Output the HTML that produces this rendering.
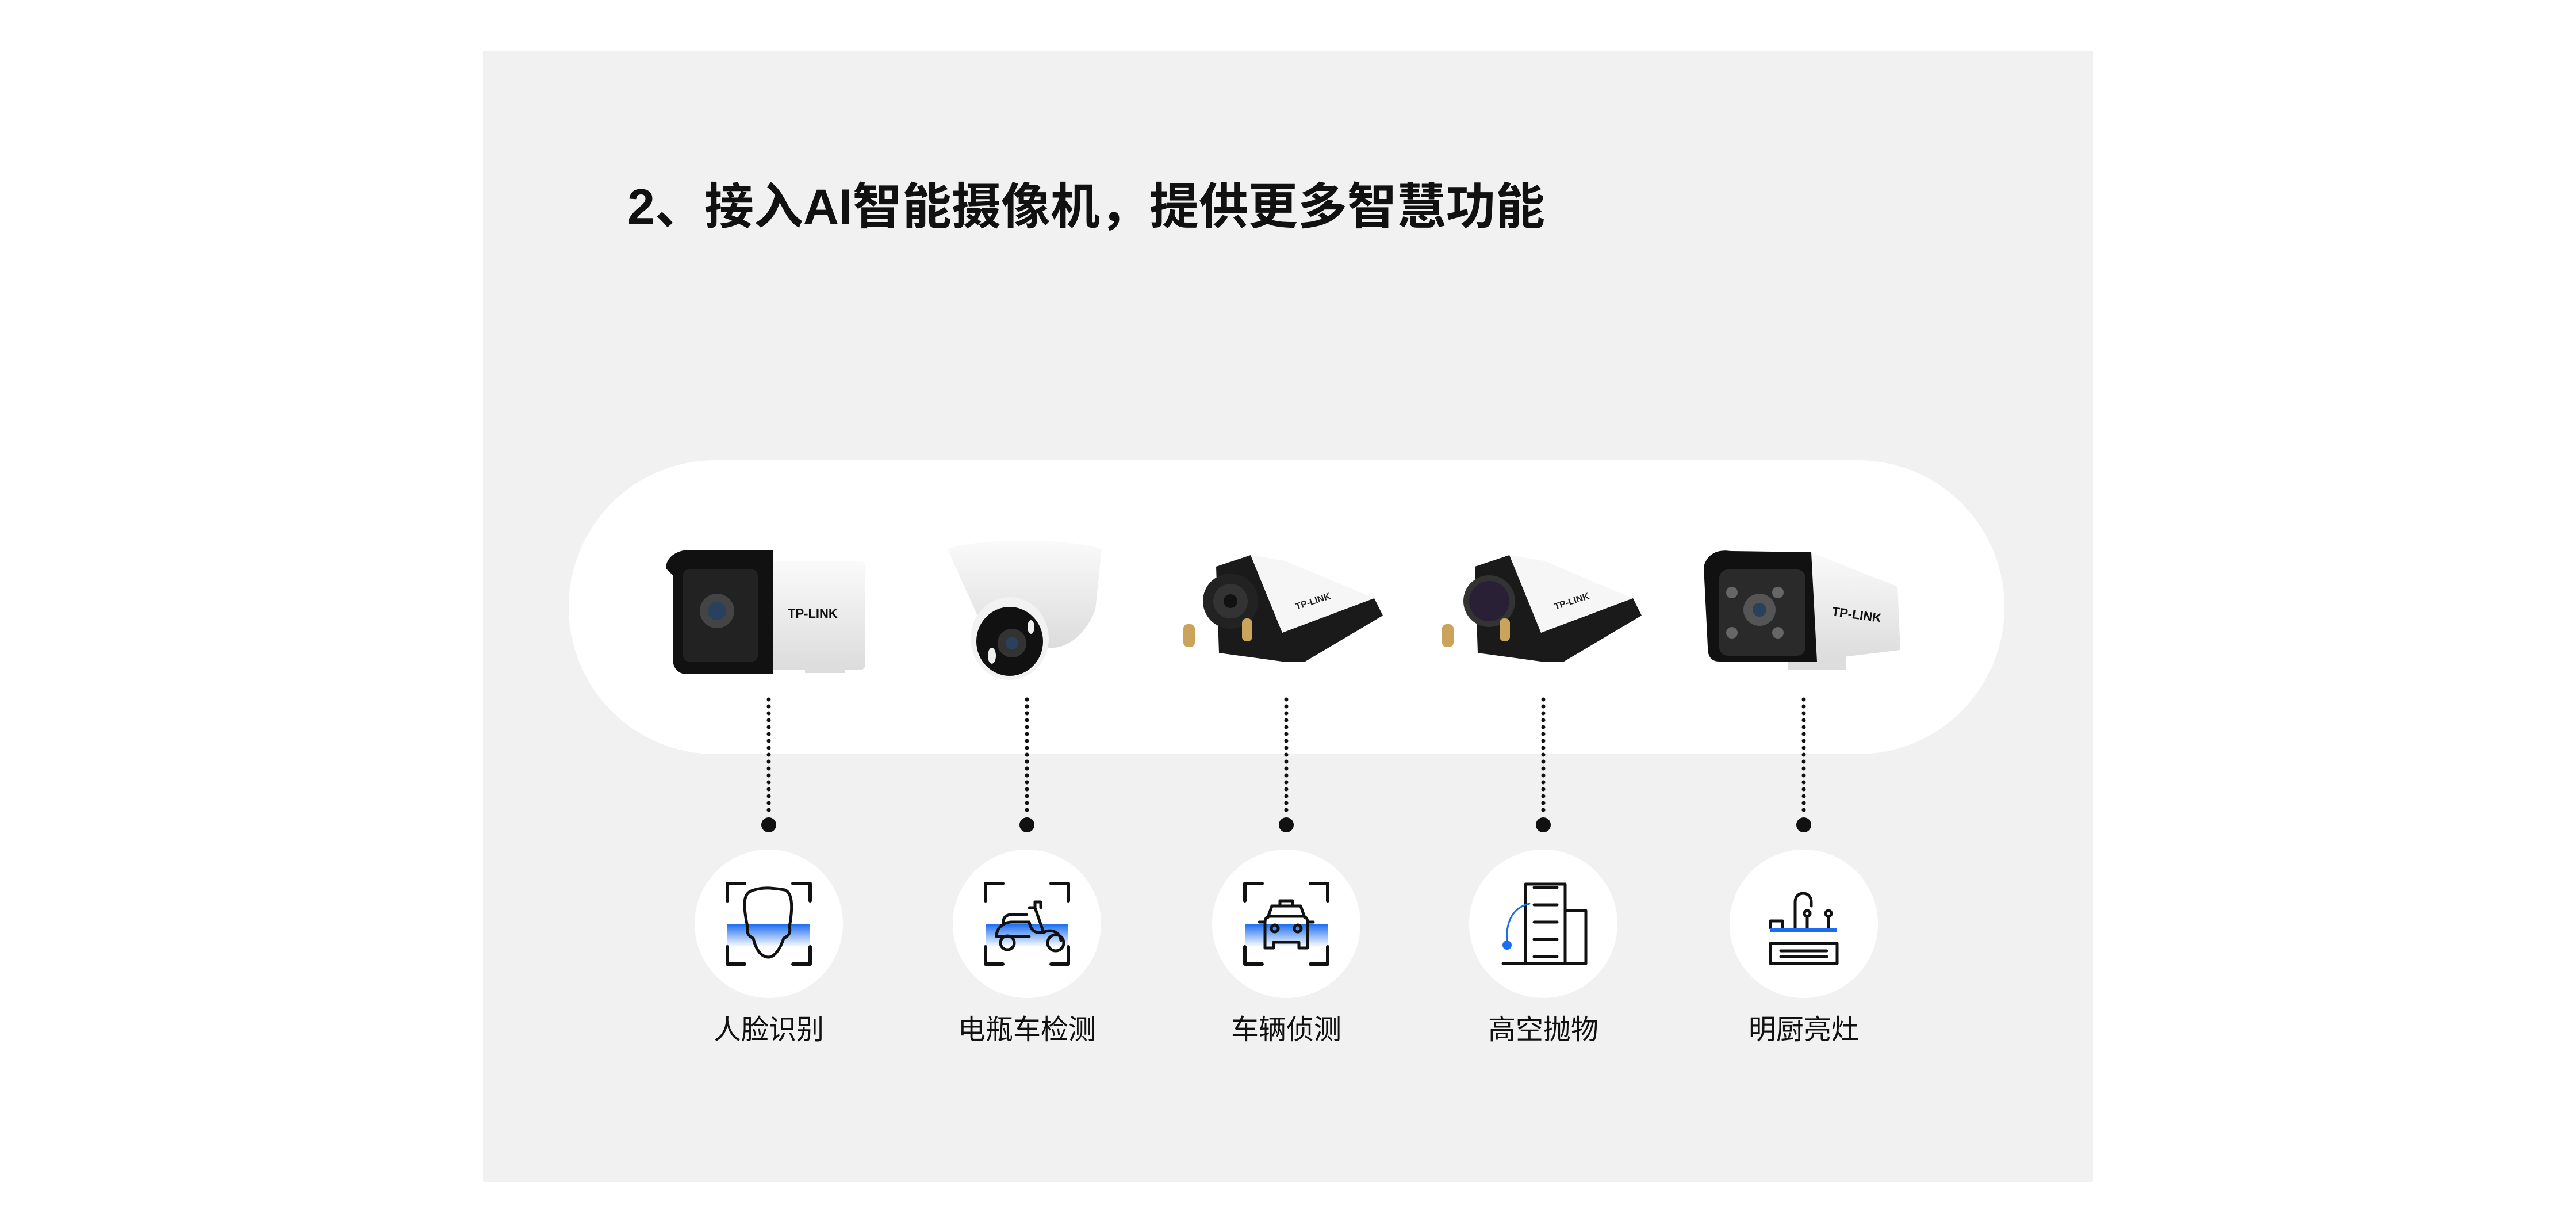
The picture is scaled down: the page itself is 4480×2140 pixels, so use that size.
<!DOCTYPE html>
<html><head><meta charset="utf-8"><style>
html,body{margin:0;padding:0;background:#fff;}
body{width:4480px;height:2140px;position:relative;overflow:hidden;font-family:"Liberation Sans","Noto Sans CJK SC",sans-serif;}
.panel{position:absolute;left:840px;top:89px;width:2800px;height:1965px;background:#f1f1f1;}
.title{position:absolute;left:1091px;top:305px;font-size:86px;font-weight:bold;color:#111;white-space:nowrap;line-height:110px;font-family:"Liberation Sans","Noto Sans CJK SC",sans-serif;}
.lbl{position:absolute;top:1759px;width:400px;margin-left:-200px;text-align:center;font-size:48px;color:#111;line-height:64px;}
</style></head><body>
<div class="panel"></div>
<div class="title">2、接入AI智能摄像机，提供更多智慧功能</div>
<svg width="4480" height="2140" style="position:absolute;left:0;top:0">
<defs>
<linearGradient id="bl" x1="0" y1="0" x2="0" y2="1">
<stop offset="0" stop-color="#1a6cf0"/><stop offset="1" stop-color="#1a6cf0" stop-opacity="0"/></linearGradient>
<linearGradient id="wb" x1="0" y1="0" x2="0" y2="1"><stop offset="0" stop-color="#fafafa"/><stop offset="1" stop-color="#dcdcdc"/></linearGradient>
</defs>
<rect x="989" y="800" width="2497" height="511" rx="255" fill="#fff"/>
<g stroke="#111" stroke-width="7" stroke-linecap="round" stroke-dasharray="0 12">
<line x1="1337" y1="1216" x2="1337" y2="1410"/><line x1="1786" y1="1216" x2="1786" y2="1410"/>
<line x1="2237" y1="1216" x2="2237" y2="1410"/><line x1="2684" y1="1216" x2="2684" y2="1410"/>
<line x1="3137" y1="1216" x2="3137" y2="1410"/></g>
<g fill="#111"><circle cx="1337" cy="1434" r="13"/><circle cx="1786" cy="1434" r="13"/><circle cx="2237" cy="1434" r="13"/><circle cx="2684" cy="1434" r="13"/><circle cx="3137" cy="1434" r="13"/></g>
<g transform="translate(0,-37)">
<g fill="#fff"><circle cx="1337" cy="1643" r="129"/><circle cx="1786" cy="1643" r="129"/><circle cx="2237" cy="1643" r="129"/><circle cx="2684" cy="1643" r="129"/><circle cx="3137" cy="1643" r="129"/></g>
<g fill="none" stroke="#111" stroke-width="6" stroke-linejoin="round" stroke-linecap="round">
<g transform="translate(1337,1643)"><path d="M-72,-40V-70H-42M42,-70H72V-40M72,40V70H42M-42,70H-72V40"/></g>
<g transform="translate(1786,1643)"><path d="M-72,-40V-70H-42M42,-70H72V-40M72,40V70H42M-42,70H-72V40"/></g>
<g transform="translate(2237,1643)"><path d="M-72,-40V-70H-42M42,-70H72V-40M72,40V70H42M-42,70H-72V40"/></g>
</g>
<rect x="1265" y="1643" width="144" height="40" fill="url(#bl)"/>
<rect x="1714" y="1643" width="144" height="40" fill="url(#bl)"/>
<rect x="2165" y="1643" width="144" height="40" fill="url(#bl)"/>
<g fill="none" stroke="#111" stroke-width="5" stroke-linecap="round" stroke-linejoin="round">
<path d="M1300,1648C1290,1600 1295,1588 1312,1584C1330,1578 1350,1582 1365,1584C1380,1590 1378,1620 1373,1648C1376,1660 1370,1665 1363,1668C1356,1690 1345,1701 1337,1701C1325,1701 1315,1690 1310,1668C1303,1665 1298,1660 1300,1648Z"/>
<path d="M1733,1665C1733,1650 1745,1640 1760,1640H1790C1793,1655 1800,1660 1815,1658L1800,1615H1790M1800,1615V1605H1810V1615M1815,1658C1830,1650 1845,1660 1845,1672M1735,1665H1790"/>
<circle cx="1752" cy="1676" r="12"/><circle cx="1836" cy="1676" r="14"/>
<path d="M1745,1640C1745,1630 1752,1627 1760,1627H1785"/>
<path d="M2205,1632L2212,1612H2262L2269,1632M2226,1612V1603H2248V1612M2200,1640L2190,1640M2274,1640L2284,1640M2200,1640V1685H2215V1675H2259V1685H2274V1640C2274,1633 2270,1630 2265,1630H2209C2204,1630 2200,1633 2200,1640Z"/>
<circle cx="2217" cy="1651" r="6"/><circle cx="2257" cy="1651" r="6"/>
<path d="M2614,1712H2758M2653,1712V1574H2722V1712M2722,1620H2758V1712M2668,1610H2708M2668,1640H2708M2668,1670H2708M2668,1700H2708M2668,1580H2708"/>
<path d="M2621,1678C2618,1640 2630,1615 2660,1608" stroke="#1a6cf0" stroke-width="3"/>
<path d="M3079,1677H3195V1712H3079ZM3097,1690H3177M3097,1700H3177M3079,1650V1638H3100V1650M3122,1650V1605C3122,1585 3150,1585 3150,1605V1612M3143,1650V1630M3180,1650V1630"/>
<circle cx="3143" cy="1625" r="5"/><circle cx="3180" cy="1625" r="5"/>
</g>
<circle cx="2621" cy="1680" r="8" fill="#1a6cf0"/>
<rect x="3079" y="1650" width="116" height="7" fill="#1a6cf0"/>
</g>
<g>
<rect x="1300" y="975" width="205" height="190" rx="10" fill="url(#wb)"/>
<rect x="1400" y="1150" width="70" height="20" fill="#ddd"/>
<path d="M1158,988C1158,970 1175,956 1200,956H1345V1172H1195C1178,1172 1170,1160 1170,1145V1000Z" fill="#111"/>
<rect x="1188" y="990" width="130" height="160" rx="10" fill="#222"/>
<circle cx="1247" cy="1062" r="30" fill="#444"/><circle cx="1247" cy="1062" r="16" fill="#29415c"/>
<text x="1370" y="1074" font-size="22" font-weight="bold" fill="#111" font-family="Liberation Sans">TP-LINK</text>
</g>
<g>
<path d="M1648,955C1690,935 1870,935 1916,955L1905,1060C1880,1120 1840,1130 1820,1125L1700,1070Z" fill="url(#wb)"/>
<ellipse cx="1756" cy="1110" rx="68" ry="72" fill="#f2f2f2"/>
<ellipse cx="1756" cy="1115" rx="58" ry="60" fill="#111"/>
<circle cx="1760" cy="1118" r="25" fill="#333"/><circle cx="1760" cy="1118" r="11" fill="#29415c"/>
<ellipse cx="1725" cy="1140" rx="7" ry="14" fill="#eee"/><ellipse cx="1793" cy="1090" rx="6" ry="12" fill="#eee"/>
</g>
<g>
<path d="M2115,985L2175,965L2390,1040L2405,1070L2270,1150L2230,1150L2120,1135Z" fill="#1a1a1a"/>
<path d="M2175,965L2235,975L2390,1040L2230,1100Z" fill="#f6f6f6"/>
<circle cx="2140" cy="1045" r="48" fill="#222"/><circle cx="2140" cy="1045" r="30" fill="#333"/><circle cx="2140" cy="1045" r="12" fill="#111"/>
<rect x="2058" y="1085" width="20" height="40" rx="8" fill="#c9a45a"/>
<rect x="2160" y="1075" width="18" height="40" rx="8" fill="#c9a45a"/>
<text x="2255" y="1060" font-size="16" font-weight="bold" fill="#222" transform="rotate(-18 2255 1060)">TP-LINK</text>
</g>
<g>
<path d="M2565,985L2625,965L2840,1040L2855,1070L2720,1150L2680,1150L2570,1135Z" fill="#1a1a1a"/>
<path d="M2625,965L2685,975L2840,1040L2680,1100Z" fill="#f6f6f6"/>
<circle cx="2590" cy="1045" r="45" fill="#333"/><circle cx="2590" cy="1045" r="35" fill="#2a2035"/>
<rect x="2508" y="1085" width="20" height="40" rx="8" fill="#c9a45a"/>
<rect x="2608" y="1075" width="18" height="40" rx="8" fill="#c9a45a"/>
<text x="2705" y="1060" font-size="16" font-weight="bold" fill="#222" transform="rotate(-18 2705 1060)">TP-LINK</text>
</g>
<g>
<path d="M3150,960L3300,1020L3305,1130L3140,1150Z" fill="url(#wb)"/>
<rect x="3110" y="1140" width="100" height="25" fill="#ddd"/>
<path d="M2963,985C2970,960 2990,955 3010,958L3150,960L3160,1150H2990C2975,1150 2970,1140 2970,1125Z" fill="#111"/>
<rect x="2990" y="990" width="150" height="150" rx="15" fill="#2a2a2a"/>
<circle cx="3060" cy="1060" r="28" fill="#555"/><circle cx="3060" cy="1060" r="12" fill="#29415c"/>
<g fill="#666"><circle cx="3012" cy="1030" r="10"/><circle cx="3092" cy="1030" r="10"/><circle cx="3012" cy="1100" r="10"/><circle cx="3092" cy="1100" r="10"/></g>
<text x="3185" y="1070" font-size="22" font-weight="bold" fill="#111" transform="rotate(8 3185 1070)">TP-LINK</text>
</g>
</svg>
<div class="lbl" style="left:1337px">人脸识别</div>
<div class="lbl" style="left:1786px">电瓶车检测</div>
<div class="lbl" style="left:2237px">车辆侦测</div>
<div class="lbl" style="left:2684px">高空抛物</div>
<div class="lbl" style="left:3137px">明厨亮灶</div>
</body></html>
